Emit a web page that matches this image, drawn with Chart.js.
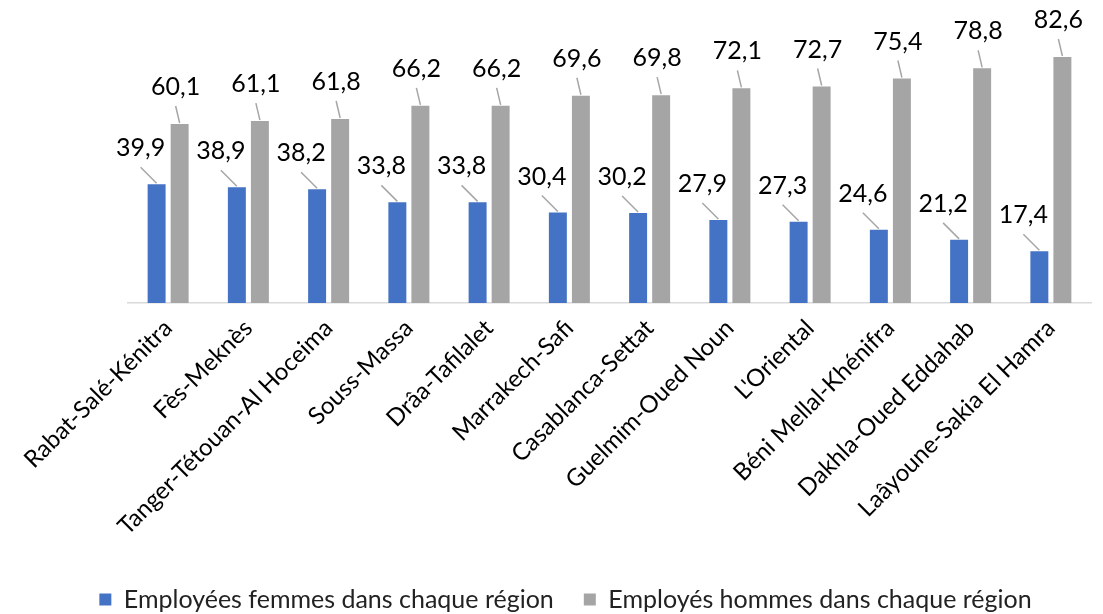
<!DOCTYPE html>
<html><head><meta charset="utf-8">
<script src="https://cdn.jsdelivr.net/npm/chart.js@4/dist/chart.umd.min.js"></script>
<style>html,body{margin:0;padding:0;background:#fff}#wrap{width:1103px;height:614px}</style>
</head><body><div id="wrap"><canvas id="c"></canvas></div>
<script>
const categories = ["Rabat-Salé-Kénitra","Fès-Meknès","Tanger-Tétouan-Al Hoceima","Souss-Massa","Drâa-Tafilalet","Marrakech-Safi","Casablanca-Settat","Guelmim-Oued Noun","L'Oriental","Béni Mellal-Khénifra","Dakhla-Oued Eddahab","Laâyoune-Sakia El Hamra"];
const femmes = [39.9,38.9,38.2,33.8,33.8,30.4,30.2,27.9,27.3,24.6,21.2,17.4];
const hommes = [60.1,61.1,61.8,66.2,66.2,69.6,69.8,72.1,72.7,75.4,78.8,82.6];
const seriesNames = ["Employées femmes dans chaque région","Employés hommes dans chaque région"];

const FONT = "Lato, 'Open Sans', sans-serif";
const labelPlugin = {
  id:'leaderLabels',
  afterDatasetsDraw(chart){
    const ctx = chart.ctx;
    const offs = [{dx:-16,dy:-36},{dx:-4,dy:-37}];
    chart.data.datasets.forEach((ds,i)=>{
      const meta = chart.getDatasetMeta(i);
      meta.data.forEach((bar,j)=>{
        const x = bar.x, y = bar.y;
        const tx = x + offs[i].dx, ty = y + offs[i].dy;
        ctx.save();
        ctx.strokeStyle = '#A6A6A6'; ctx.lineWidth = 1.5;
        ctx.beginPath(); ctx.moveTo(tx, ty+19); ctx.lineTo(x, y-1); ctx.stroke();
        ctx.fillStyle = '#000'; ctx.font = '25px ' + FONT;
        ctx.textAlign='center'; ctx.textBaseline='middle';
        ctx.fillText(ds.data[j].toFixed(1).replace('.',','), tx, ty);
        ctx.restore();
      });
    });
  }
};

new Chart(document.getElementById('c'),{
  type:'bar',
  data:{labels:categories,datasets:[
    {label:seriesNames[0],data:femmes,backgroundColor:'#4472C4',categoryPercentage:0.574,barPercentage:0.78},
    {label:seriesNames[1],data:hommes,backgroundColor:'#A5A5A5',categoryPercentage:0.574,barPercentage:0.78}
  ]},
  options:{
    responsive:true,maintainAspectRatio:false,animation:false,
    layout:{padding:{left:40,right:12,top:35,bottom:-8}},
    plugins:{legend:{position:'bottom',labels:{boxWidth:12,boxHeight:12,color:'#222',font:{family:FONT,size:25},padding:30}},tooltip:{enabled:false}},
    scales:{
      x:{grid:{display:false,drawTicks:false},border:{color:'#D9D9D9',width:1.5},
         ticks:{color:'#000',font:{family:FONT,size:24},maxRotation:45,minRotation:45,padding:11},
         afterFit(s){ s.height = 254; s.paddingLeft = 0; }},
      y:{display:true,min:0,max:90,grid:{display:false},border:{display:false},ticks:{display:false},
         afterFit(s){ s.width = 88; }}
    }
  },
  plugins:[labelPlugin]
});
</script></body></html>
